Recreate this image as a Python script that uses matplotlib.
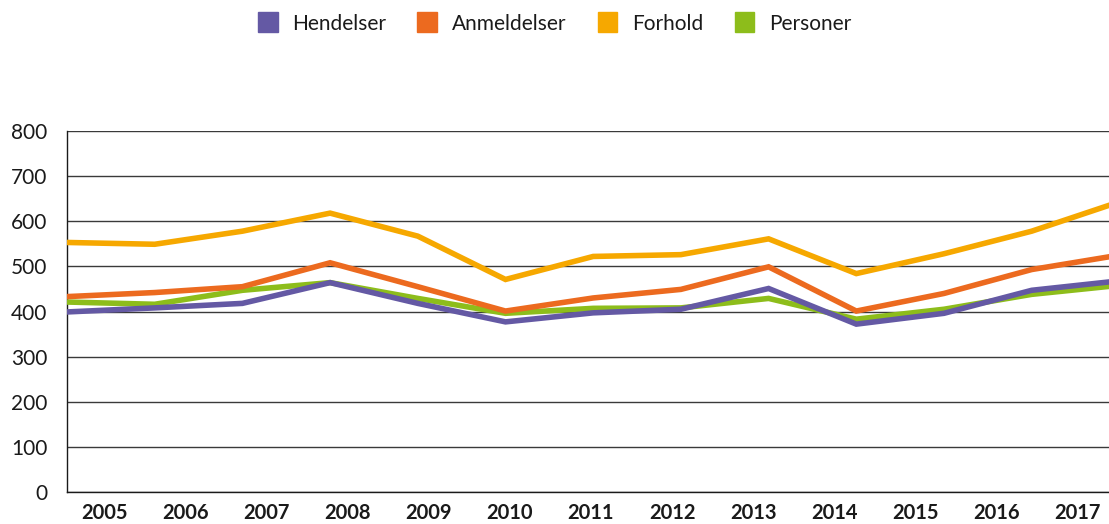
import numpy as np
import matplotlib.pyplot as plt
from matplotlib.patches import Patch

plt.rcParams["font.family"] = ["Lato", "DejaVu Sans"]

years = ["2005", "2006", "2007", "2008", "2009", "2010", "2011",
         "2012", "2013", "2014", "2015", "2016", "2017"]

hendelser = [399, 408, 418, 464, 418, 377, 397, 405, 451, 372, 396, 447, 468]
anmeldelser = [433, 442, 455, 508, 455, 401, 430, 449, 499, 401, 440, 493, 525]
forhold = [553, 549, 578, 618, 567, 471, 522, 526, 561, 484, 528, 578, 643]
personer = [421, 416, 447, 464, 429, 396, 407, 408, 429, 383, 405, 438, 458]

c_hend = "#6459a4"
c_anm = "#ec6a1f"
c_forh = "#f6a800"
c_pers = "#8dbd1b"

W, H = 1109, 524
fig = plt.figure(figsize=(W / 100, H / 100), dpi=100, facecolor="white")

# plot area in pixels: left edge 67, right edge cut by the image border
ax = fig.add_axes([67 / W, 1 - 492 / H, 1 - 67 / W, (492 - 131) / H])

x = np.arange(len(years))
step = 87.7  # pixel distance between data points
lw = 4.0
ax.plot(x, personer, color=c_pers, lw=lw, solid_joinstyle="miter", zorder=3)
ax.plot(x, hendelser, color=c_hend, lw=lw, solid_joinstyle="miter", zorder=4)
ax.plot(x, anmeldelser, color=c_anm, lw=lw, solid_joinstyle="miter", zorder=5)
ax.plot(x, forhold, color=c_forh, lw=lw, solid_joinstyle="miter", zorder=6)

ax.set_xlim(0, (W - 67) / step)
ax.set_ylim(0, 800)
ax.set_yticks(range(0, 801, 100))
ax.yaxis.grid(True, color="#3a3a3a", lw=1.0)
ax.set_axisbelow(True)

# year labels sit on their own spacing, not under the data points
label_px = 104 + 81.15 * np.arange(len(years))
ax.set_xticks((label_px - 67) / step)
ax.set_xticklabels(years, fontsize=14.5, fontweight="bold", color="#1a1a1a")

ax.tick_params(axis="both", length=0)
ax.tick_params(axis="y", pad=14, labelsize=15, labelcolor="#1a1a1a")
ax.tick_params(axis="x", pad=8)

for side in ["top", "right"]:
    ax.spines[side].set_visible(False)
ax.spines["left"].set_color("#1a1a1a")
ax.spines["bottom"].set_color("#1a1a1a")
ax.spines["left"].set_linewidth(1.0)
ax.spines["bottom"].set_linewidth(1.0)

handles = [
    Patch(color=c_hend, label="Hendelser"),
    Patch(color=c_anm, label="Anmeldelser"),
    Patch(color=c_forh, label="Forhold"),
    Patch(color=c_pers, label="Personer"),
]
fig.legend(
    handles=handles,
    loc="center",
    bbox_to_anchor=(0.5, 1 - 23 / H),
    ncol=4,
    frameon=False,
    fontsize=15,
    handlelength=0.95,
    handleheight=1.1,
    handletextpad=0.7,
    columnspacing=1.5,
    labelcolor="#1a1a1a",
)

plt.savefig("out.png", dpi=100, facecolor="white")
